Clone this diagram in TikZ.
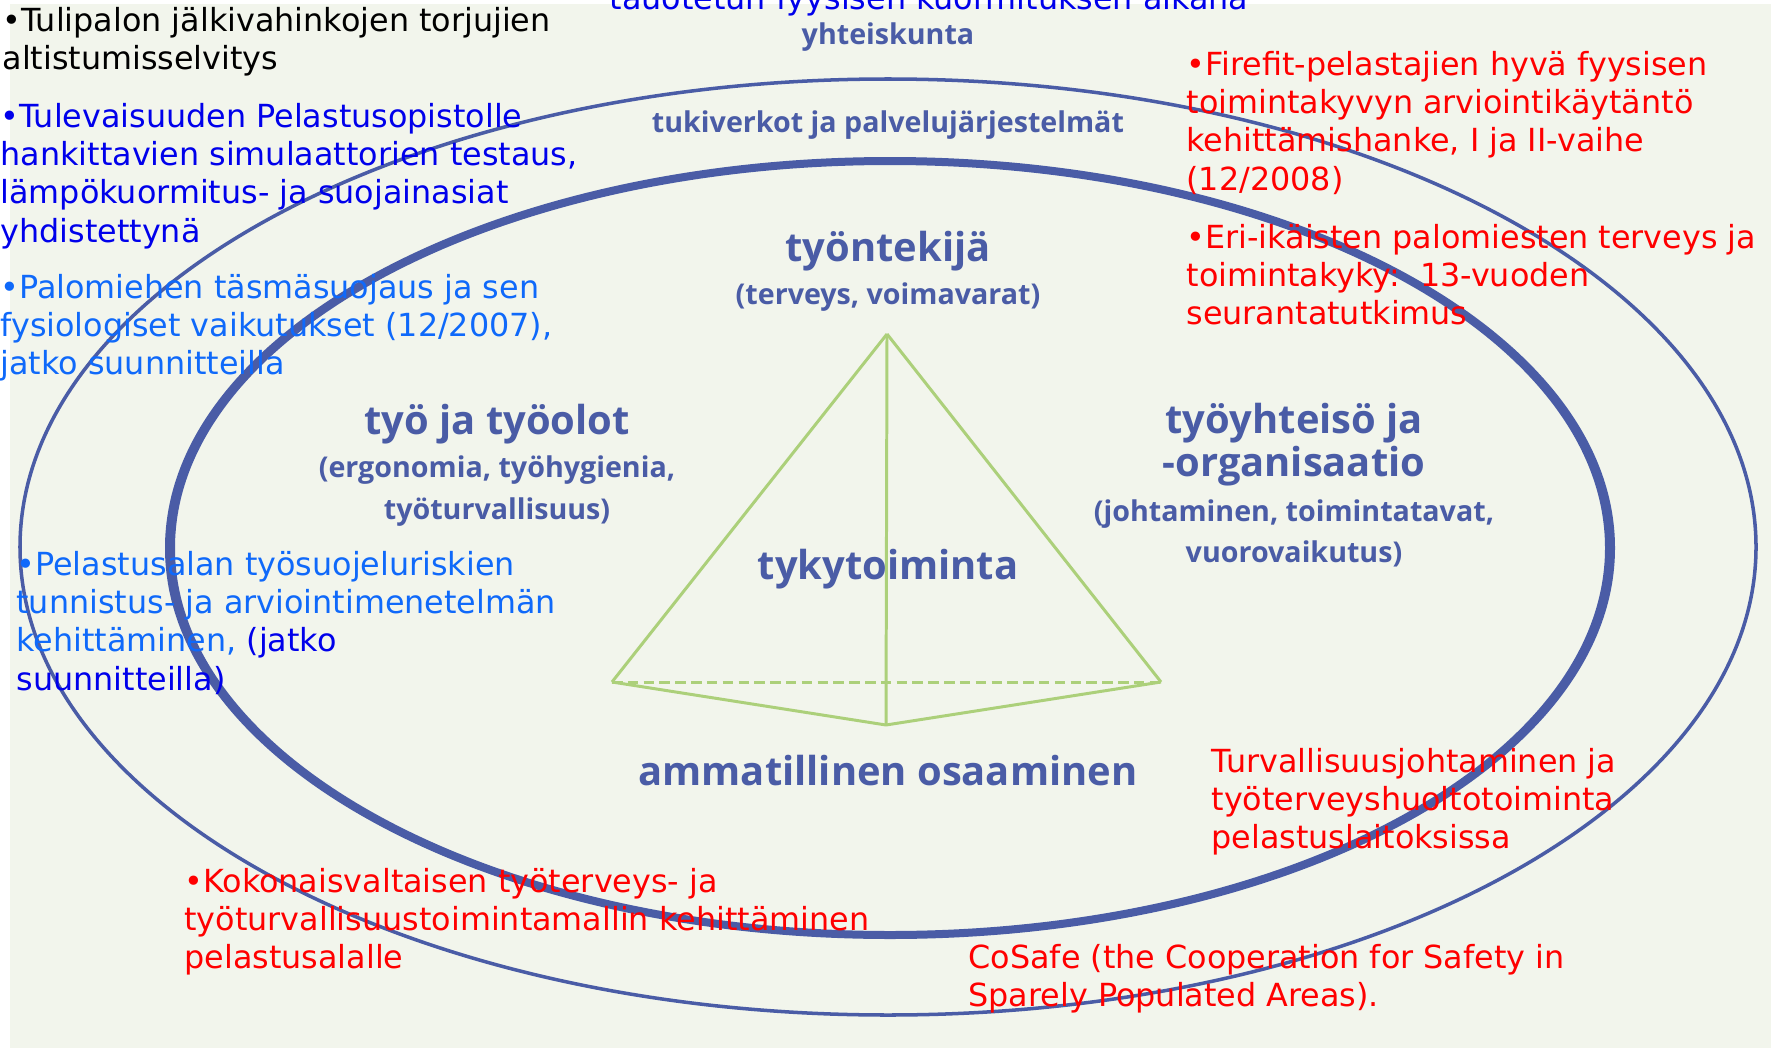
\documentclass[tikz,border=0pt]{standalone}
\usepackage{fontspec}
\setmainfont{DejaVu Sans}
\newfontfamily\diagfont{Open Sans}

\definecolor{paper}{RGB}{242,245,236}
\definecolor{diagblue}{RGB}{74,92,166}
\definecolor{pyrgreen}{RGB}{172,208,122}
\definecolor{deepblue}{RGB}{0,0,235}
\definecolor{skyblue}{RGB}{15,105,250}
\definecolor{notered}{RGB}{255,0,0}

\newcommand{\notefont}{\fontsize{18.1pt}{21.7pt}\selectfont}
\newcommand{\areafont}{\diagfont\bfseries\fontsize{16.3pt}{19pt}\selectfont}
\newcommand{\bigareafont}{\diagfont\bfseries\fontsize{22.7pt}{26pt}\selectfont}

\begin{document}
\begin{tikzpicture}[
            x = 0.02cm, y = -0.02cm, % one unit is one pixel, y runs down
            semithick
        ]

        \tikzstyle{note}=[
            anchor = north west,
            align = left,
            inner sep = 0pt,
            font = \notefont
        ]
        \tikzstyle{area}=[anchor = base, inner sep = 0pt, text = diagblue, font = \areafont]
        \tikzstyle{bigarea}=[area, font = \bigareafont]
        \tikzstyle{edge}=[draw = pyrgreen, line width = 1.7pt, line join = round]

        \useasboundingbox (0,0) rectangle (1771,1048);
        \fill[paper] (10,4) rectangle (1771,1048);

	% rings
        \draw[diagblue, line width = 2pt] (888,547) ellipse [x radius = 868, y radius = 468];
        \fill[diagblue, even odd rule] (890,548) ellipse [x radius = 725, y radius = 391]
            (890,548) ellipse [x radius = 715, y radius = 383];

	% pyramid
        \coordinate (apex) at (887,334);
        \coordinate (pl) at (612,682);
        \coordinate (pr) at (1161,682);
        \coordinate (pf) at (886,725);

        \path[edge] (apex) edge (pl) (apex) edge (pr) (apex) edge (pf);
        \path[edge] (pl) edge (pf) (pr) edge (pf);
        \path[edge, dash pattern = on 6pt off 3pt] (pl) edge (pr);

	% levels
        \node[area] (soc) at (888,44) {yhteiskunta};
        \node[area] (net) at (888,132) {tukiverkot ja palvelujärjestelmät};
        \node[bigarea] (emp) at (888,261) {työntekijä};
        \node[area] (empsub) at (888,304) {(terveys, voimavarat)};
        \node[bigarea] (work) at (497,434) {työ ja työolot};
        \node[area] (worksub) at (497,477) {(ergonomia, työhygienia,};
        \node[area] (worksub2) at (497,519) {työturvallisuus)};
        \node[bigarea] (org) at (1294,433) {työyhteisö ja};
        \node[bigarea] (org2) at (1294,476) {-organisaatio};
        \node[area] (orgsub) at (1294,521) {(johtaminen, toimintatavat,};
        \node[area] (orgsub2) at (1294,562) {vuorovaikutus)};
        \node[bigarea] (tyky) at (888,579) {tykytoiminta};
        \node[bigarea] (skill) at (888,785) {ammatillinen osaaminen};

	% projects
        \node[anchor = base, inner sep = 0pt, font = \notefont, text = deepblue] (pause) at (929,10)
            {tauotetun fyysisen kuormituksen aikana};
        \node[note, text = black] (fire) at (2,7)
            {•Tulipalon jälkivahinkojen torjujien\\altistumisselvitys};
        \node[note, text = deepblue] (sim) at (0,103)
            {•Tulevaisuuden Pelastusopistolle\\hankittavien simulaattorien testaus,\\lämpökuormitus- ja suojainasiat\\yhdistettynä};
        \node[note, text = skyblue] (suit) at (0,274)
            {•Palomiehen täsmäsuojaus ja sen\\fysiologiset vaikutukset (12/2007),\\jatko suunnitteilla};
        \node[note, text = skyblue] (risk) at (16,551)
            {•Pelastusalan työsuojeluriskien\\tunnistus- ja arviointimenetelmän\\kehittäminen, \textcolor{deepblue}{(jatko}\\\textcolor{deepblue}{suunnitteilla)}};
        \node[note, text = notered] (fit) at (1186,51)
            {•Firefit-pelastajien hyvä fyysisen\\toimintakyvyn arviointikäytäntö\\kehittämishanke, I ja II-vaihe\\(12/2008)};
        \node[note, text = notered] (age) at (1186,224)
            {•Eri-ikäisten palomiesten terveys ja\\toimintakyky:~~13-vuoden\\seurantatutkimus};
        \node[note, text = notered] (safe) at (1211,748)
            {Turvallisuusjohtaminen ja\\työterveyshuoltotoiminta\\pelastuslaitoksissa};
        \node[note, text = notered] (whole) at (184,868)
            {•Kokonaisvaltaisen työterveys- ja\\työturvallisuustoimintamallin kehittäminen\\pelastusalalle};
        \node[note, text = notered] (cosafe) at (968,944)
            {CoSafe (the Cooperation for Safety in\\Sparely Populated Areas).};

\end{tikzpicture}
\end{document}
